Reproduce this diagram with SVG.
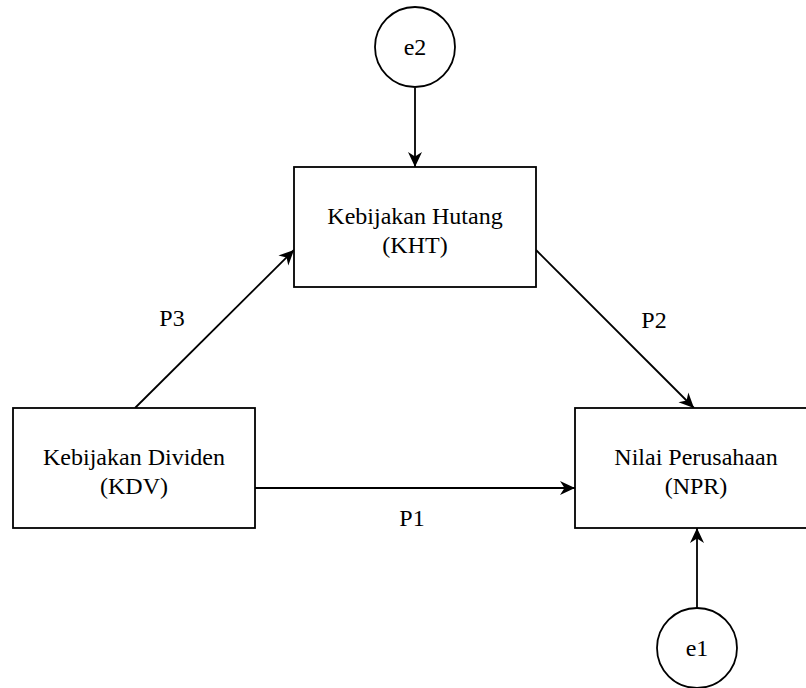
<svg xmlns="http://www.w3.org/2000/svg" width="806" height="688" viewBox="0 0 806 688">
<style>
.box{fill:#fff;stroke:#000;stroke-width:1.8}
.lbl{font-family:'Liberation Serif','Times New Roman',serif;font-size:24px;fill:#000;text-anchor:middle;dominant-baseline:central}
.edge{stroke:#000;stroke-width:1.8;fill:none}
</style>
<defs>
<marker id="arr" markerUnits="userSpaceOnUse" markerWidth="16" markerHeight="14" refX="15" refY="7" orient="auto" overflow="visible">
<path d="M0,0 L15,7 L0,14 L4.5,7 Z" fill="#000"/>
</marker>
</defs>
<rect width="806" height="688" fill="#fff"/>
<g id="connectors">
<line class="edge" x1="415" y1="88" x2="415" y2="167" marker-end="url(#arr)"/>
<line class="edge" x1="135" y1="408" x2="294" y2="250" marker-end="url(#arr)"/>
<line class="edge" x1="536" y1="250" x2="694" y2="408" marker-end="url(#arr)"/>
<line class="edge" x1="255" y1="488" x2="575" y2="488" marker-end="url(#arr)"/>
<line class="edge" x1="697" y1="608" x2="697" y2="528" marker-end="url(#arr)"/>
<text class="lbl" x="172" y="318">P3</text>
<text class="lbl" x="654" y="320">P2</text>
<text class="lbl" x="412" y="518">P1</text>
</g>
<g id="e2">
<circle class="box" cx="415" cy="47" r="40"/>
<text class="lbl" x="415" y="47">e2</text>
</g>
<g id="KHT">
<rect class="box" x="294" y="167" width="242" height="120"/>
<text class="lbl" x="415" y="216">Kebijakan Hutang</text>
<text class="lbl" x="415" y="245">(KHT)</text>
</g>
<g id="KDV">
<rect class="box" x="13" y="408" width="242" height="120"/>
<text class="lbl" x="134" y="457">Kebijakan Dividen</text>
<text class="lbl" x="134" y="486">(KDV)</text>
</g>
<g id="NPR">
<rect class="box" x="575" y="408" width="242" height="120"/>
<text class="lbl" x="696" y="457">Nilai Perusahaan</text>
<text class="lbl" x="696" y="486">(NPR)</text>
</g>
<g id="e1">
<circle class="box" cx="697" cy="648" r="40"/>
<text class="lbl" x="697" y="648">e1</text>
</g>
</svg>
